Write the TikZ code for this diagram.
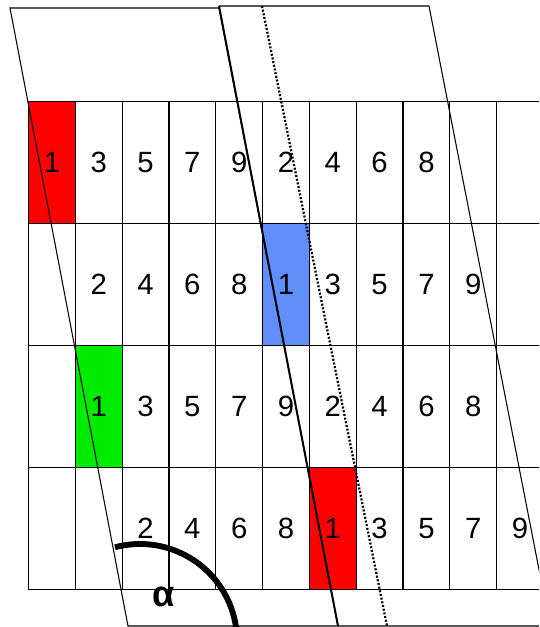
\documentclass[tikz,border=0pt]{standalone}
\usepackage{fontspec}
\setmainfont{Liberation Sans}
\definecolor{cellred}{RGB}{255,0,0}
\definecolor{cellblue}{RGB}{96,142,250}
\definecolor{cellgreen}{RGB}{0,235,0}
\tikzset{
  cell/.style={draw, line width=1pt, anchor=north west, inner sep=0pt,
    minimum width=1.404cm, minimum height=3.66cm,
    font=\fontsize{25}{25}\selectfont},
  c0-0/.style={fill=cellred},
  c1-5/.style={fill=cellblue},
  c2-1/.style={fill=cellgreen},
  c3-6/.style={fill=cellred}
}
\begin{document}
\begin{tikzpicture}[x=0.03cm, y=-0.03cm]
\useasboundingbox (0,0) rectangle (539,627);
\clip (0,0) rectangle (539,627);
\fill[white] (0,0) rectangle (539,627);
\foreach \r/\lst in {0/{1,3,5,7,9,2,4,6,8,{},{}},
                     1/{{},2,4,6,8,1,3,5,7,9,{}},
                     2/{{},1,3,5,7,9,2,4,6,8,{}},
                     3/{{},{},2,4,6,8,1,3,5,7,9}}
  \foreach \t [count=\c from 0] in \lst
    \node[cell, fill=white, c\r-\c/.try] (n\r-\c) at (28+46.8*\c, 101+122*\r) {\t};
% frames
\coordinate (ltl) at (10,8);
\coordinate (ltr) at (219,8);
\coordinate (lbl) at (128,626);
\coordinate (lbr) at (338,626);
\coordinate (rtl) at (219,6);
\coordinate (rtr) at (429,6);
\coordinate (rbr) at (550,626);
\draw[line width=0.9pt] (ltl) -- (ltr) -- (lbr) -- (lbl) -- cycle;
\draw[line width=0.9pt] (rtl) -- (rtr) -- (rbr) -- (lbr);
\draw[line width=1.7pt] (rtl) -- (lbr);
\draw[line width=1.9pt, dash pattern=on 1.7pt off 1.5pt] (262,6) -- (387,626);
% angle
\draw[line width=5pt] (114.9,547.3) arc[start angle=-105, end angle=0, radius=97];
\node[font=\fontsize{31}{31}\selectfont\bfseries, inner sep=0pt] (alpha) at (164,597) {α};
\end{tikzpicture}
\end{document}
